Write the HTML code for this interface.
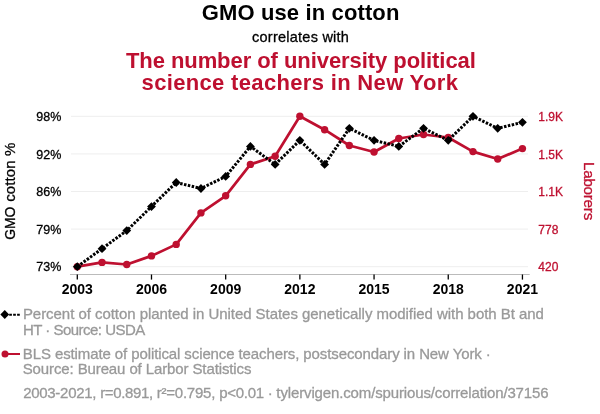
<!DOCTYPE html>
<html><head><meta charset="utf-8"><style>
html,body{margin:0;padding:0;background:#fff;}
svg{display:block;will-change:transform;font-family:"Liberation Sans",sans-serif;}
text{stroke-width:0.3px;}
text[font-weight="bold"]{stroke-width:0.0px;}
</style></head><body>
<svg width="600" height="414" viewBox="0 0 600 414">
<text id="title" x="201.74" y="20.00" font-size="22.00" font-weight="bold" fill="#000" stroke="#000" textLength="197.63" lengthAdjust="spacing">GMO use in cotton</text>
<text id="corr" x="252.09" y="42.00" font-size="14.50" font-weight="normal" fill="#000" stroke="#000" textLength="96.80" lengthAdjust="spacing">correlates with</text>
<text id="red1" x="125.89" y="68.00" font-size="22.00" font-weight="bold" fill="#be1030" stroke="#be1030" textLength="350.01" lengthAdjust="spacing">The number of university political</text>
<text id="red2" x="141.60" y="90.00" font-size="22.00" font-weight="bold" fill="#be1030" stroke="#be1030" textLength="316.29" lengthAdjust="spacing">science teachers in New York</text>
<text id="leg1" x="22.90" y="319.00" font-size="15.00" font-weight="normal" fill="#999999" stroke="#999999" textLength="520.97" lengthAdjust="spacing">Percent of cotton planted in United States genetically modified with both Bt and</text>
<text id="leg2" x="22.90" y="335.00" font-size="15.00" font-weight="normal" fill="#999999" stroke="#999999" textLength="122.41" lengthAdjust="spacing">HT · Source: USDA</text>
<text id="leg3" x="22.79" y="359.00" font-size="15.00" font-weight="normal" fill="#999999" stroke="#999999" textLength="467.97" lengthAdjust="spacing">BLS estimate of political science teachers, postsecondary in New York ·</text>
<text id="leg4" x="22.67" y="374.00" font-size="15.00" font-weight="normal" fill="#999999" stroke="#999999" textLength="228.79" lengthAdjust="spacing">Source: Bureau of Larbor Statistics</text>
<text id="foot_0" x="23.13" y="398.00" font-size="15.00" font-weight="normal" fill="#999999" stroke="#999999" textLength="73.34" lengthAdjust="spacing">2003-2021,</text>
<text id="foot_1" x="100.13" y="398.00" font-size="15.00" font-weight="normal" fill="#999999" stroke="#999999" textLength="53.15" lengthAdjust="spacing">r=0.891,</text>
<text id="foot_2" x="156.78" y="398.00" font-size="15.00" font-weight="normal" fill="#999999" stroke="#999999" textLength="58.57" lengthAdjust="spacing">r²=0.795,</text>
<text id="foot_3" x="219.15" y="398.00" font-size="15.00" font-weight="normal" fill="#999999" stroke="#999999" textLength="53.54" lengthAdjust="spacing">p&lt;0.01 ·</text>
<text id="foot_4" x="276.36" y="398.00" font-size="15.00" font-weight="normal" fill="#999999" stroke="#999999" textLength="272.21" lengthAdjust="spacing">tylervigen.com/spurious/correlation/37156</text>

<line x1="71" x2="528" y1="116.30" y2="116.30" stroke="#eeeeee" stroke-width="1"/>
<line x1="71" x2="528" y1="153.90" y2="153.90" stroke="#eeeeee" stroke-width="1"/>
<line x1="71" x2="528" y1="191.50" y2="191.50" stroke="#eeeeee" stroke-width="1"/>
<line x1="71" x2="528" y1="229.10" y2="229.10" stroke="#eeeeee" stroke-width="1"/>
<line x1="71" x2="528" y1="266.70" y2="266.70" stroke="#eeeeee" stroke-width="1"/>

<line x1="70" x2="529.7" y1="274.5" y2="274.5" stroke="#bbbbbb" stroke-width="1"/>
<line x1="77.30" x2="77.30" y1="274.5" y2="279.6" stroke="#000" stroke-width="1.3"/>
<text x="77.30" y="294.2" text-anchor="middle" font-size="14" font-weight="bold" stroke="#000">2003</text>
<line x1="151.49" x2="151.49" y1="274.5" y2="279.6" stroke="#000" stroke-width="1.3"/>
<text x="151.49" y="294.2" text-anchor="middle" font-size="14" font-weight="bold" stroke="#000">2006</text>
<line x1="225.68" x2="225.68" y1="274.5" y2="279.6" stroke="#000" stroke-width="1.3"/>
<text x="225.68" y="294.2" text-anchor="middle" font-size="14" font-weight="bold" stroke="#000">2009</text>
<line x1="299.87" x2="299.87" y1="274.5" y2="279.6" stroke="#000" stroke-width="1.3"/>
<text x="299.87" y="294.2" text-anchor="middle" font-size="14" font-weight="bold" stroke="#000">2012</text>
<line x1="374.06" x2="374.06" y1="274.5" y2="279.6" stroke="#000" stroke-width="1.3"/>
<text x="374.06" y="294.2" text-anchor="middle" font-size="14" font-weight="bold" stroke="#000">2015</text>
<line x1="448.25" x2="448.25" y1="274.5" y2="279.6" stroke="#000" stroke-width="1.3"/>
<text x="448.25" y="294.2" text-anchor="middle" font-size="14" font-weight="bold" stroke="#000">2018</text>
<line x1="522.44" x2="522.44" y1="274.5" y2="279.6" stroke="#000" stroke-width="1.3"/>
<text x="522.44" y="294.2" text-anchor="middle" font-size="14" font-weight="bold" stroke="#000">2021</text>

<text x="61.3" y="120.90" text-anchor="end" font-size="12.5" stroke="#000">98%</text>
<text x="538.3" y="120.90" font-size="12" fill="#be1030" stroke="#be1030">1.9K</text>
<text x="61.3" y="158.50" text-anchor="end" font-size="12.5" stroke="#000">92%</text>
<text x="538.3" y="158.50" font-size="12" fill="#be1030" stroke="#be1030">1.5K</text>
<text x="61.3" y="196.10" text-anchor="end" font-size="12.5" stroke="#000">86%</text>
<text x="538.3" y="196.10" font-size="12" fill="#be1030" stroke="#be1030">1.1K</text>
<text x="61.3" y="233.70" text-anchor="end" font-size="12.5" stroke="#000">79%</text>
<text x="538.3" y="233.70" font-size="12" fill="#be1030" stroke="#be1030">778</text>
<text x="61.3" y="271.30" text-anchor="end" font-size="12.5" stroke="#000">73%</text>
<text x="538.3" y="271.30" font-size="12" fill="#be1030" stroke="#be1030">420</text>

<text id="ylab0" transform="translate(14.80,239.75) rotate(-90)" font-size="15.00" fill="#000" stroke="#000" textLength="33.18" lengthAdjust="spacingAndGlyphs">GMO</text>
<text id="ylab1" transform="translate(14.80,201.87) rotate(-90)" font-size="15.00" fill="#000" stroke="#000" textLength="59.29" lengthAdjust="spacing">cotton %</text>
<text id="rlab" transform="translate(583.60,191.10) rotate(90)" text-anchor="middle" font-size="15.20" fill="#be1030" stroke="#be1030" textLength="58.25" lengthAdjust="spacing">Laborers</text>
<polyline points="77.30,266.70 102.03,262.40 126.76,264.50 151.49,255.90 176.22,244.40 200.95,212.90 225.68,195.80 250.41,164.40 275.14,156.20 299.87,116.30 324.60,129.70 349.33,145.50 374.06,152.00 398.79,138.50 423.52,134.50 448.25,137.50 472.98,151.60 497.71,159.00 522.44,148.60" fill="none" stroke="#be1030" stroke-width="2.7" stroke-linejoin="round"/>
<circle cx="77.30" cy="266.70" r="3.7" fill="#be1030"/><circle cx="102.03" cy="262.40" r="3.7" fill="#be1030"/><circle cx="126.76" cy="264.50" r="3.7" fill="#be1030"/><circle cx="151.49" cy="255.90" r="3.7" fill="#be1030"/><circle cx="176.22" cy="244.40" r="3.7" fill="#be1030"/><circle cx="200.95" cy="212.90" r="3.7" fill="#be1030"/><circle cx="225.68" cy="195.80" r="3.7" fill="#be1030"/><circle cx="250.41" cy="164.40" r="3.7" fill="#be1030"/><circle cx="275.14" cy="156.20" r="3.7" fill="#be1030"/><circle cx="299.87" cy="116.30" r="3.7" fill="#be1030"/><circle cx="324.60" cy="129.70" r="3.7" fill="#be1030"/><circle cx="349.33" cy="145.50" r="3.7" fill="#be1030"/><circle cx="374.06" cy="152.00" r="3.7" fill="#be1030"/><circle cx="398.79" cy="138.50" r="3.7" fill="#be1030"/><circle cx="423.52" cy="134.50" r="3.7" fill="#be1030"/><circle cx="448.25" cy="137.50" r="3.7" fill="#be1030"/><circle cx="472.98" cy="151.60" r="3.7" fill="#be1030"/><circle cx="497.71" cy="159.00" r="3.7" fill="#be1030"/><circle cx="522.44" cy="148.60" r="3.7" fill="#be1030"/>
<polyline points="77.30,266.70 102.03,248.65 126.76,230.60 151.49,206.54 176.22,182.48 200.95,188.49 225.68,176.46 250.41,146.38 275.14,164.43 299.87,140.36 324.60,164.43 349.33,128.33 374.06,140.36 398.79,146.38 423.52,128.33 448.25,140.36 472.98,116.30 497.71,128.33 522.44,122.32" fill="none" stroke="#000" stroke-width="3" stroke-dasharray="2.5,1.45"/>
<g fill="#000"><path d="M77.30 262.30L81.70 266.70L77.30 271.10L72.90 266.70Z"/><path d="M102.03 244.25L106.43 248.65L102.03 253.05L97.63 248.65Z"/><path d="M126.76 226.20L131.16 230.60L126.76 235.00L122.36 230.60Z"/><path d="M151.49 202.14L155.89 206.54L151.49 210.94L147.09 206.54Z"/><path d="M176.22 178.08L180.62 182.48L176.22 186.88L171.82 182.48Z"/><path d="M200.95 184.09L205.35 188.49L200.95 192.89L196.55 188.49Z"/><path d="M225.68 172.06L230.08 176.46L225.68 180.86L221.28 176.46Z"/><path d="M250.41 141.98L254.81 146.38L250.41 150.78L246.01 146.38Z"/><path d="M275.14 160.03L279.54 164.43L275.14 168.83L270.74 164.43Z"/><path d="M299.87 135.96L304.27 140.36L299.87 144.76L295.47 140.36Z"/><path d="M324.60 160.03L329.00 164.43L324.60 168.83L320.20 164.43Z"/><path d="M349.33 123.93L353.73 128.33L349.33 132.73L344.93 128.33Z"/><path d="M374.06 135.96L378.46 140.36L374.06 144.76L369.66 140.36Z"/><path d="M398.79 141.98L403.19 146.38L398.79 150.78L394.39 146.38Z"/><path d="M423.52 123.93L427.92 128.33L423.52 132.73L419.12 128.33Z"/><path d="M448.25 135.96L452.65 140.36L448.25 144.76L443.85 140.36Z"/><path d="M472.98 111.90L477.38 116.30L472.98 120.70L468.58 116.30Z"/><path d="M497.71 123.93L502.11 128.33L497.71 132.73L493.31 128.33Z"/><path d="M522.44 117.92L526.84 122.32L522.44 126.72L518.04 122.32Z"/></g>
<path d="M4.75 310.1L9.15 314.5L4.75 318.9L0.35 314.5Z" fill="#000"/>
<line x1="9.2" x2="20" y1="314.75" y2="314.75" stroke="#000" stroke-width="2" stroke-dasharray="2.7,1.25"/>
<line x1="5" x2="20" y1="354" y2="354" stroke="#be1030" stroke-width="2"/>
<circle cx="5" cy="354" r="3.5" fill="#be1030"/>
</svg>
</body></html>
